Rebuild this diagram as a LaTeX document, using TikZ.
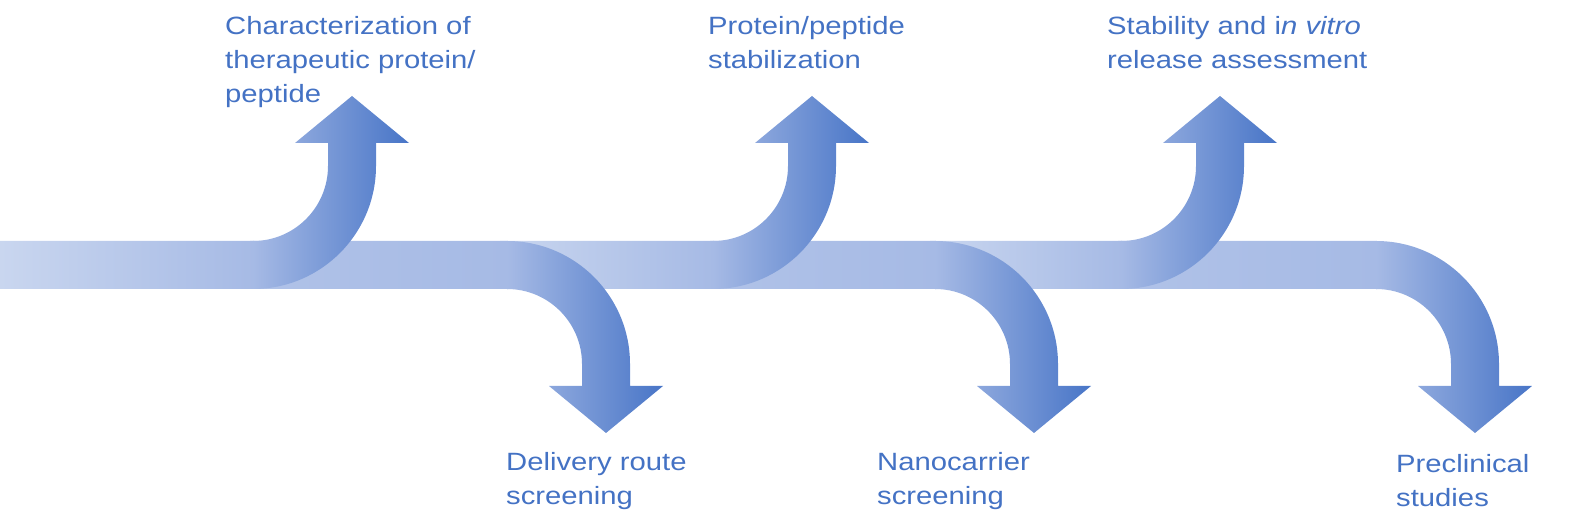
\documentclass[tikz,border=0pt]{standalone}
\usepackage{fontspec}
\newfontfamily\etiquetafont[FakeStretch=1.17]{Liberation Sans}

\definecolor{azul}{RGB}{68,114,196}
\definecolor{claro}{RGB}{201,214,239}
\definecolor{medio}{RGB}{166,186,229}
\definecolor{oscuro}{RGB}{72,117,199}

\tikzset{
  etiqueta/.style={text=azul, font=\etiquetafont\fontsize{25}{34}\selectfont,
    align=left, inner sep=0pt, anchor=north west}
}

% flecha que sube: #1 inicio de la cola, #2 inicio de la curva, #3 color inicial
\newcommand{\flechaArriba}[3]{%
  \begin{scope}
    \clip (#1,235) -- (#1,283) -- (#2,283) arc[start angle=-90, end angle=0, radius=75]
      -- ++(0,23) -- ++(-33,0) -- ++(57,47) -- ++(57,-47) -- ++(-33,0) -- ++(0,-23)
      arc[start angle=0, end angle=-90, radius=123] -- cycle;
    \shade[left color=#3, right color=medio] (#1,230) rectangle (#2+1,290);
    \shade[left color=medio, right color=oscuro] (#2,230) rectangle (#2+156,432);
  \end{scope}}

% flecha que baja
\newcommand{\flechaAbajo}[3]{%
  \begin{scope}
    \clip (#1,235) -- (#1,283) -- (#2,283) arc[start angle=90, end angle=0, radius=123]
      -- ++(0,-22) -- ++(33,0) -- ++(-57,-47) -- ++(-57,47) -- ++(33,0) -- ++(0,22)
      arc[start angle=0, end angle=90, radius=75] -- cycle;
    \shade[left color=#3, right color=medio] (#1,230) rectangle (#2+1,290);
    \shade[left color=medio, right color=oscuro] (#2,86) rectangle (#2+156,290);
  \end{scope}}

\begin{document}
\begin{tikzpicture}[x=1pt, y=1pt]

        \useasboundingbox (0,0) rectangle (1572,524);

        % Flecha 6
        \flechaAbajo{1118}{1376}{claro!30!medio}

        % Flecha 5
        \flechaArriba{930}{1121}{claro}

        % Flecha 4
        \flechaAbajo{710}{935}{claro!30!medio}

        % Flecha 3
        \flechaArriba{500}{713}{claro}

        % Flecha 2
        \flechaAbajo{250}{507}{claro!30!medio}

        % Flecha 1
        \flechaArriba{0}{253}{claro}

        % Etiquetas de arriba
        \node[etiqueta] (caracterizacion) at (225,508) {Characterization of\\therapeutic protein/\\peptide};
        \node[etiqueta] (estabilizacion) at (708,508) {Protein/peptide\\stabilization};
        \node[etiqueta] (liberacion) at (1107,508) {Stability and i\textit{n vitro}\\release assessment};

        % Etiquetas de abajo
        \node[etiqueta] (via) at (506,72) {Delivery route\\screening};
        \node[etiqueta] (nanoportador) at (877,72) {Nanocarrier\\screening};
        \node[etiqueta] (preclinico) at (1396,70) {Preclinical\\studies};

    \end{tikzpicture}
\end{document}
